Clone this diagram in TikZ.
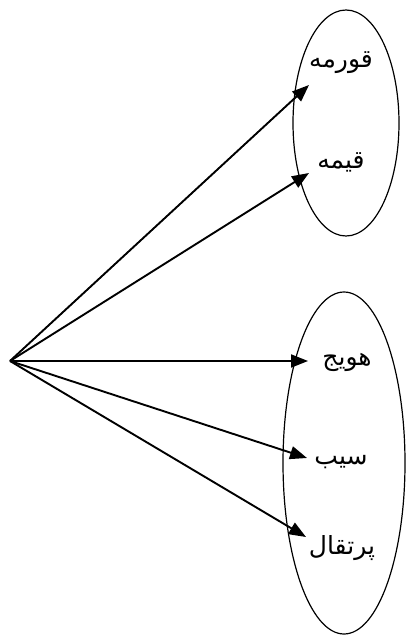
\documentclass[tikz,border=0pt]{standalone}
\usepackage{fontspec}
\usetikzlibrary{shapes.geometric,arrows.meta}
\TeXXeTstate=1
\newfontfamily\arabicfont[Script=Arabic]{DejaVu Sans}
\begin{document}
\begin{tikzpicture}[x=1pt,y=-1pt,
  setbox/.style={ellipse,draw,line width=1.2pt,inner sep=0pt},
  lbl/.style={font=\arabicfont\fontsize{25}{30}\selectfont,inner sep=0pt},
  arr/.style={line width=1.9pt,-{Triangle[length=17pt,width=13pt]}}]
\useasboundingbox (0,0) rectangle (408,636);
\node[setbox,minimum width=106pt,minimum height=226pt] (e1) at (346,123) {};
\node[setbox,minimum width=122pt,minimum height=342pt] (e2) at (344,463) {};
\coordinate (o) at (10,361);
\node[lbl] (t1) at (341,63) {\beginR قورمه\endR};
\node[lbl] (t2) at (341,162) {\beginR قیمه\endR};
\node[lbl] (t3) at (347,362) {\beginR هویج\endR};
\node[lbl] (t4) at (341,462) {\beginR سیب\endR};
\node[lbl] (t5) at (342,548) {\beginR پرتقال\endR};
\coordinate (a1) at (309,85);
\coordinate (a2) at (309,173);
\coordinate (a3) at (308,361);
\coordinate (a4) at (307,458);
\coordinate (a5) at (306,537);
\foreach \i in {1,...,5} \draw[arr] (o) -- (a\i);
\end{tikzpicture}
\end{document}
